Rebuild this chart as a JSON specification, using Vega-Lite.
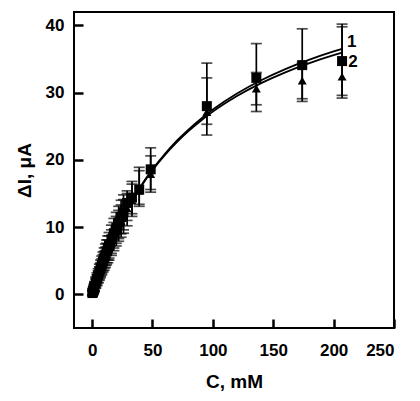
{
  "$schema": "https://vega.github.io/schema/vega-lite/v6.json",
  "autosize": {"type": "none"},
  "padding": {"left": 74, "top": 12, "right": 26, "bottom": 73},
  "width": 320,
  "height": 316,
  "background": "white",
  "config": {
    "view": {"stroke": "black", "strokeWidth": 2},
    "font": "Liberation Sans"
  },
  "datasets": {
    "pts": [
      {"C": 0.3, "I": 0.2, "lo": -0.2, "hi": 0.6, "s": "1"},
      {"C": 0.6, "I": 0.35, "lo": -0.1, "hi": 0.8, "s": "1"},
      {"C": 1, "I": 0.6, "lo": 0.1, "hi": 1.1, "s": "1"},
      {"C": 1.5, "I": 0.9, "lo": 0.3, "hi": 1.5, "s": "1"},
      {"C": 2, "I": 1.2, "lo": 0.5, "hi": 1.9, "s": "1"},
      {"C": 3, "I": 1.8, "lo": 1.0, "hi": 2.6, "s": "1"},
      {"C": 4, "I": 2.3, "lo": 1.4, "hi": 3.2, "s": "1"},
      {"C": 5, "I": 2.8, "lo": 1.8, "hi": 3.8, "s": "1"},
      {"C": 6, "I": 3.4, "lo": 2.3, "hi": 4.5, "s": "1"},
      {"C": 7, "I": 3.9, "lo": 2.7, "hi": 5.1, "s": "1"},
      {"C": 8, "I": 4.4, "lo": 3.1, "hi": 5.7, "s": "1"},
      {"C": 9, "I": 4.9, "lo": 3.5, "hi": 6.3, "s": "1"},
      {"C": 10, "I": 5.4, "lo": 3.9, "hi": 6.9, "s": "1"},
      {"C": 11, "I": 5.9, "lo": 4.3, "hi": 7.5, "s": "1"},
      {"C": 12, "I": 6.4, "lo": 4.7, "hi": 8.1, "s": "1"},
      {"C": 13, "I": 6.9, "lo": 5.1, "hi": 8.7, "s": "1"},
      {"C": 14, "I": 7.3, "lo": 5.4, "hi": 9.2, "s": "1"},
      {"C": 16, "I": 8.2, "lo": 6.1, "hi": 10.3, "s": "1"},
      {"C": 18, "I": 9.1, "lo": 6.9, "hi": 11.3, "s": "1"},
      {"C": 20, "I": 9.9, "lo": 7.6, "hi": 12.2, "s": "1"},
      {"C": 22, "I": 10.7, "lo": 8.3, "hi": 13.1, "s": "1"},
      {"C": 24, "I": 11.5, "lo": 9.0, "hi": 14.0, "s": "1"},
      {"C": 26, "I": 12.2, "lo": 9.6, "hi": 14.8, "s": "1"},
      {"C": 29, "I": 13.6, "lo": 11.0, "hi": 15.4, "s": "1"},
      {"C": 33, "I": 14.4, "lo": 12.0, "hi": 16.8, "s": "1"},
      {"C": 39, "I": 15.6, "lo": 13.1, "hi": 18.9, "s": "1"},
      {"C": 48.5, "I": 18.6, "lo": 15.6, "hi": 21.8, "s": "1"},
      {"C": 95, "I": 28.0, "lo": 23.7, "hi": 34.4, "s": "1"},
      {"C": 136, "I": 32.2, "lo": 27.2, "hi": 37.3, "s": "1"},
      {"C": 174, "I": 34.1, "lo": 28.7, "hi": 39.5, "s": "1"},
      {"C": 207, "I": 34.7, "lo": 29.2, "hi": 40.2, "s": "1"},
      {"C": 0.3, "I": 0.1, "lo": -0.2, "hi": 0.4, "s": "2"},
      {"C": 0.6, "I": 0.3, "lo": 0.0, "hi": 0.6, "s": "2"},
      {"C": 1, "I": 0.5, "lo": 0.1, "hi": 0.9, "s": "2"},
      {"C": 1.5, "I": 0.8, "lo": 0.3, "hi": 1.3, "s": "2"},
      {"C": 2, "I": 1.1, "lo": 0.5, "hi": 1.7, "s": "2"},
      {"C": 3, "I": 1.6, "lo": 0.9, "hi": 2.3, "s": "2"},
      {"C": 4, "I": 2.1, "lo": 1.3, "hi": 2.9, "s": "2"},
      {"C": 5, "I": 2.6, "lo": 1.7, "hi": 3.5, "s": "2"},
      {"C": 6, "I": 3.1, "lo": 2.1, "hi": 4.1, "s": "2"},
      {"C": 7, "I": 3.6, "lo": 2.5, "hi": 4.7, "s": "2"},
      {"C": 8, "I": 4.1, "lo": 2.9, "hi": 5.3, "s": "2"},
      {"C": 9, "I": 4.6, "lo": 3.3, "hi": 5.9, "s": "2"},
      {"C": 10, "I": 5.0, "lo": 3.6, "hi": 6.4, "s": "2"},
      {"C": 11, "I": 5.5, "lo": 4.0, "hi": 7.0, "s": "2"},
      {"C": 12, "I": 6.0, "lo": 4.4, "hi": 7.6, "s": "2"},
      {"C": 13, "I": 6.4, "lo": 4.7, "hi": 8.1, "s": "2"},
      {"C": 14, "I": 6.9, "lo": 5.1, "hi": 8.7, "s": "2"},
      {"C": 16, "I": 7.7, "lo": 5.8, "hi": 9.6, "s": "2"},
      {"C": 18, "I": 8.6, "lo": 6.5, "hi": 10.7, "s": "2"},
      {"C": 20, "I": 9.4, "lo": 7.2, "hi": 11.6, "s": "2"},
      {"C": 22, "I": 10.2, "lo": 7.9, "hi": 12.5, "s": "2"},
      {"C": 24, "I": 10.9, "lo": 8.5, "hi": 13.3, "s": "2"},
      {"C": 26, "I": 11.6, "lo": 9.1, "hi": 14.1, "s": "2"},
      {"C": 29, "I": 12.8, "lo": 10.2, "hi": 15.0, "s": "2"},
      {"C": 33, "I": 14.0, "lo": 11.6, "hi": 16.4, "s": "2"},
      {"C": 39, "I": 15.4, "lo": 13.4, "hi": 18.4, "s": "2"},
      {"C": 48.5, "I": 17.9, "lo": 15.2, "hi": 20.6, "s": "2"},
      {"C": 95, "I": 27.1, "lo": 25.3, "hi": 32.2, "s": "2"},
      {"C": 136, "I": 30.6, "lo": 28.2, "hi": 33.0, "s": "2"},
      {"C": 174, "I": 31.8, "lo": 29.1, "hi": 34.5, "s": "2"},
      {"C": 207, "I": 32.4, "lo": 29.6, "hi": 39.8, "s": "2"}
    ],
    "curves": [
      {"C": 0, "I": 0, "s": "1"},
      {"C": 5, "I": 2.72, "s": "1"},
      {"C": 10, "I": 5.18, "s": "1"},
      {"C": 20, "I": 9.44, "s": "1"},
      {"C": 30, "I": 12.99, "s": "1"},
      {"C": 40, "I": 16.01, "s": "1"},
      {"C": 50, "I": 18.6, "s": "1"},
      {"C": 60, "I": 20.84, "s": "1"},
      {"C": 70, "I": 22.83, "s": "1"},
      {"C": 80, "I": 24.55, "s": "1"},
      {"C": 90, "I": 26.1, "s": "1"},
      {"C": 100, "I": 27.49, "s": "1"},
      {"C": 120, "I": 29.87, "s": "1"},
      {"C": 140, "I": 31.84, "s": "1"},
      {"C": 160, "I": 33.5, "s": "1"},
      {"C": 180, "I": 34.91, "s": "1"},
      {"C": 200, "I": 36.13, "s": "1"},
      {"C": 207, "I": 36.52, "s": "1"},
      {"C": 0, "I": 0, "s": "2"},
      {"C": 5, "I": 2.72, "s": "2"},
      {"C": 10, "I": 5.18, "s": "2"},
      {"C": 20, "I": 9.41, "s": "2"},
      {"C": 30, "I": 12.93, "s": "2"},
      {"C": 40, "I": 15.91, "s": "2"},
      {"C": 50, "I": 18.46, "s": "2"},
      {"C": 60, "I": 20.67, "s": "2"},
      {"C": 70, "I": 22.6, "s": "2"},
      {"C": 80, "I": 24.31, "s": "2"},
      {"C": 90, "I": 25.82, "s": "2"},
      {"C": 100, "I": 27.18, "s": "2"},
      {"C": 120, "I": 29.5, "s": "2"},
      {"C": 140, "I": 31.42, "s": "2"},
      {"C": 160, "I": 33.03, "s": "2"},
      {"C": 180, "I": 34.4, "s": "2"},
      {"C": 200, "I": 35.58, "s": "2"},
      {"C": 207, "I": 35.95, "s": "2"}
    ],
    "labels": [
      {"C": 215, "I": 37.6, "t": "1"},
      {"C": 216, "I": 34.6, "t": "2"}
    ]
  },
  "layer": [
    {
      "data": {"name": "pts"},
      "mark": {"type": "rule", "color": "black", "strokeWidth": 1.7},
      "encoding": {
        "x": {
          "field": "C", "type": "quantitative",
          "scale": {"domain": [-15, 250], "nice": false, "zero": false},
          "axis": {
            "values": [0, 50, 100, 150, 200, 250], "title": "C, mM", "zindex": 2,
            "domain": false, "grid": false, "ticks": true, "tickColor": "black", "tickWidth": 2.5, "tickSize": 9, "offset": -9,
            "labelFont": "Liberation Sans", "labelFontWeight": "bold", "labelFontSize": 17, "labelColor": "black", "labelPadding": 14,
            "titleFont": "Liberation Sans", "titleFontWeight": "bold", "titleFontSize": 19, "titleColor": "black", "titlePadding": 14
          }
        },
        "y": {
          "field": "lo", "type": "quantitative",
          "scale": {"domain": [-5, 42], "nice": false, "zero": false},
          "axis": {
            "values": [0, 10, 20, 30, 40], "title": "ΔI, μA", "zindex": 2,
            "domain": false, "grid": false, "ticks": true, "tickColor": "black", "tickWidth": 2.5, "tickSize": 9, "offset": -9,
            "labelFont": "Liberation Sans", "labelFontWeight": "bold", "labelFontSize": 17, "labelColor": "black", "labelPadding": 10,
            "titleFont": "Liberation Sans", "titleFontWeight": "bold", "titleFontSize": 19, "titleColor": "black", "titlePadding": 11
          }
        },
        "y2": {"field": "hi"}
      }
    },
    {
      "data": {"name": "pts"},
      "mark": {"type": "tick", "orient": "horizontal", "color": "black", "size": 11, "thickness": 1.7},
      "encoding": {"x": {"field": "C", "type": "quantitative"}, "y": {"field": "lo", "type": "quantitative"}}
    },
    {
      "data": {"name": "pts"},
      "mark": {"type": "tick", "orient": "horizontal", "color": "black", "size": 11, "thickness": 1.7},
      "encoding": {"x": {"field": "C", "type": "quantitative"}, "y": {"field": "hi", "type": "quantitative"}}
    },
    {
      "data": {"name": "curves"},
      "mark": {"type": "line", "color": "black", "strokeWidth": 1.8, "interpolate": "monotone"},
      "encoding": {"x": {"field": "C", "type": "quantitative"}, "y": {"field": "I", "type": "quantitative"}, "detail": {"field": "s"}}
    },
    {
      "data": {"name": "pts"},
      "mark": {"type": "point", "filled": true, "color": "black", "opacity": 1},
      "encoding": {
        "x": {"field": "C", "type": "quantitative"},
        "y": {"field": "I", "type": "quantitative"},
        "shape": {"field": "s", "type": "nominal", "scale": {"domain": ["1", "2"], "range": ["square", "triangle-up"]}, "legend": null},
        "size": {"field": "s", "type": "nominal", "scale": {"domain": ["1", "2"], "range": [100, 80]}, "legend": null}
      }
    },
    {
      "data": {"name": "labels"},
      "mark": {"type": "text", "font": "Liberation Sans", "fontWeight": "bold", "fontSize": 17, "color": "black", "align": "center", "baseline": "middle"},
      "encoding": {"x": {"field": "C", "type": "quantitative"}, "y": {"field": "I", "type": "quantitative"}, "text": {"field": "t"}}
    }
  ]
}
